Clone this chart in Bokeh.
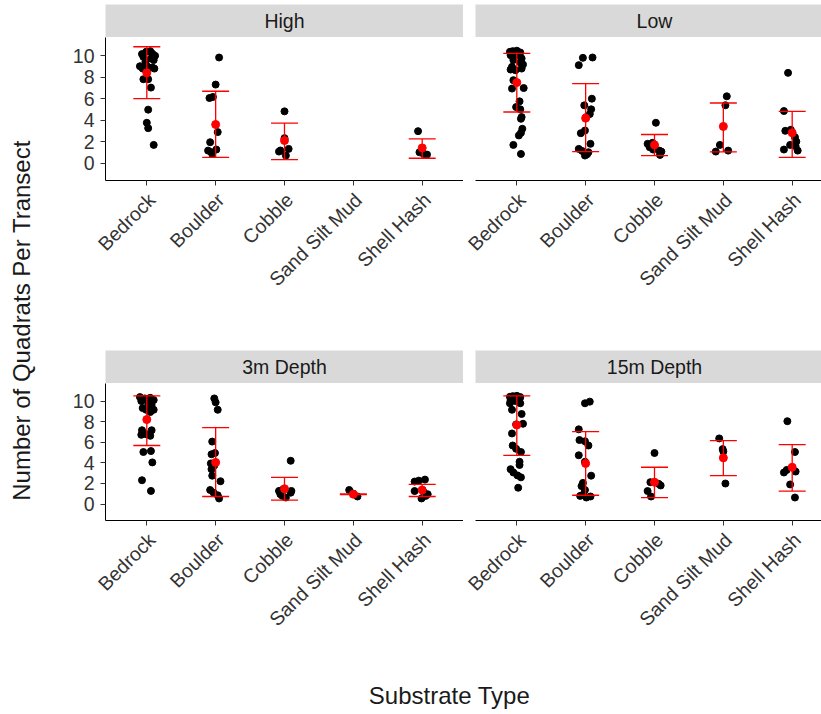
import math
from bokeh.plotting import figure
from bokeh.layouts import row, column
from bokeh.models import ColumnDataSource, Whisker, TeeHead, FixedTicker, Range1d, LinearAxis
from bokeh.embed import file_html
from bokeh.resources import INLINE
from bokeh.core.properties import value
from bokeh.core.validation import silence
from bokeh.core.validation.warnings import MISSING_RENDERERS

silence(MISSING_RENDERERS, True)

substrates = ["Bedrock", "Boulder", "Cobble", "Sand Silt Mud", "Shell Hash"]
panel_names = ["High", "Low", "3m Depth", "15m Depth"]
y_ticks = [0, 2, 4, 6, 8, 10]

# ---- points per panel: values and horizontal jitter (category units) ----
high_vals = {
    "Bedrock": [10.16, 10.37, 10.43, 10.2, 10.0, 9.9, 9.75, 9.6, 9.44, 9.03, 8.81, 8.91, 8.81, 9.06, 7.82, 7.82, 7.04, 4.99, 3.77, 3.27, 1.71],
    "Boulder": [9.84, 7.32, 6.07, 6.17, 2.9, 1.96, 1.18, 1.03, 1.28, 0.87],
    "Cobble": [4.83, 2.34, 1.09, 0.72, 1.34, 1.19],
    "Sand Silt Mud": [],
    "Shell Hash": [2.99, 1.03, 0.87, 0.81, 1.18],
}
high_jit = {
    "Bedrock": [-0.07, -0.01, 0.05, 0.08, 0.12, -0.05, 0.06, 0.1, -0.02, -0.1, -0.06, 0.08, 0.11, 0.0, -0.05, 0.02, 0.06, 0.02, 0.0, 0.02, 0.1],
    "Boulder": [0.05, 0.0, -0.09, -0.04, 0.03, -0.08, -0.11, -0.06, 0.01, -0.05],
    "Cobble": [0.0, 0.0, -0.08, 0.02, 0.06, -0.06],
    "Sand Silt Mud": [],
    "Shell Hash": [-0.06, -0.04, 0.02, 0.07, -0.01],
}
low_vals = {
    "Bedrock": [10.43, 10.47, 10.31, 10.06, 10.0, 9.75, 9.6, 9.38, 8.97, 8.72, 9.19, 8.66, 7.73, 6.95, 7.0, 5.76, 5.23, 5.02, 4.3, 4.14, 3.21, 2.83, 2.59, 1.71, 0.87, 10.06, 10.37, 8.81],
    "Boulder": [9.81, 9.84, 9.13, 6.01, 5.39, 5.02, 4.58, 4.30, 3.05, 2.80, 1.81, 1.34, 1.15, 0.84, 0.72, 1.03],
    "Cobble": [3.77, 1.81, 1.9, 1.5, 1.65, 1.28, 1.18, 1.09, 0.78],
    "Sand Silt Mud": [6.23, 5.4, 1.71, 1.09, 1.18],
    "Shell Hash": [8.41, 4.86, 3.02, 3.12, 2.43, 2.02, 1.59, 1.71, 1.28, 1.18],
}
low_jit = {
    "Bedrock": [-0.06, 0.0, 0.05, -0.09, -0.02, 0.07, -0.05, 0.05, -0.07, -0.09, 0.09, -0.02, -0.05, -0.07, 0.1, 0.04, -0.01, 0.05, 0.07, 0.06, 0.08, 0.06, 0.03, -0.05, 0.06, 0.02, -0.1, 0.07],
    "Boulder": [-0.04, 0.1, -0.1, 0.09, -0.02, 0.08, 0.06, 0.01, -0.01, -0.07, 0.07, -0.1, -0.05, 0.02, -0.01, 0.04],
    "Cobble": [0.02, -0.1, -0.03, -0.07, 0.0, -0.02, 0.07, 0.1, 0.08],
    "Sand Silt Mud": [0.05, 0.03, -0.05, -0.11, 0.07],
    "Shell Hash": [-0.06, -0.12, -0.1, -0.02, 0.04, 0.06, 0.05, -0.03, -0.12, 0.08],
}
d3_vals = {
    "Bedrock": [10.38, 10.25, 10.31, 10.09, 10.0, 9.78, 9.62, 9.31, 9.15, 9.15, 8.93, 7.16, 7.16, 6.72, 6.78, 6.62, 5.05, 5.14, 4.04, 2.31, 1.27],
    "Boulder": [10.25, 9.87, 9.15, 6.06, 4.83, 4.95, 3.94, 3.75, 3.38, 2.75, 2.21, 1.36, 1.1, 0.85, 0.54],
    "Cobble": [4.2, 1.27, 1.42, 1.27, 0.79, 0.63, 1.1, 0.95],
    "Sand Silt Mud": [1.36, 1.0, 0.73],
    "Shell Hash": [2.18, 2.27, 2.37, 1.26, 1.17, 0.95, 0.54, 0.79],
}
d3_jit = {
    "Bedrock": [-0.1, -0.03, 0.05, 0.1, -0.08, 0.02, 0.07, -0.06, -0.01, 0.1, 0.05, -0.07, 0.07, -0.08, -0.01, 0.05, -0.05, 0.06, 0.08, -0.07, 0.06],
    "Boulder": [-0.02, 0.0, 0.03, -0.05, -0.06, -0.01, -0.07, -0.02, -0.06, -0.05, 0.07, -0.08, -0.03, 0.03, 0.05],
    "Cobble": [0.09, -0.08, -0.02, 0.1, -0.03, 0.02, 0.09, -0.06],
    "Sand Silt Mud": [-0.06, 0.0, 0.06],
    "Shell Hash": [-0.11, -0.05, 0.04, -0.11, 0.02, 0.08, -0.01, 0.05],
}
d15_vals = {
    "Bedrock": [10.41, 10.47, 10.5, 10.38, 10.09, 10.0, 10.19, 9.78, 9.78, 9.15, 8.74, 7.73, 7.79, 6.85, 5.68, 5.36, 5.05, 4.1, 3.79, 3.38, 3.06, 2.78, 2.59, 1.58],
    "Boulder": [9.78, 9.94, 7.25, 6.21, 6.09, 5.68, 4.73, 4.1, 2.75, 2.05, 1.74, 1.36, 0.79, 0.63, 0.73, 0.95],
    "Cobble": [4.95, 2.12, 1.96, 1.8, 1.26, 0.73],
    "Sand Silt Mud": [6.37, 5.33, 5.11, 1.99],
    "Shell Hash": [8.04, 5.05, 3.06, 3.31, 3.15, 1.9, 0.63],
}
d15_jit = {
    "Bedrock": [-0.1, -0.06, 0.0, 0.05, -0.09, -0.02, 0.04, -0.1, 0.05, -0.07, 0.07, -0.01, 0.09, -0.07, -0.06, -0.01, 0.06, 0.04, 0.04, -0.09, -0.05, 0.01, 0.06, 0.02],
    "Boulder": [-0.01, 0.06, -0.1, -0.09, -0.01, 0.04, -0.1, -0.01, 0.08, -0.04, -0.06, -0.01, -0.08, 0.01, 0.07, -0.03],
    "Cobble": [0.0, -0.06, 0.06, 0.09, -0.1, -0.05],
    "Sand Silt Mud": [-0.06, -0.01, 0.0, 0.03],
    "Shell Hash": [-0.07, 0.04, -0.12, -0.08, 0.05, -0.03, 0.04],
}

# ---- mean and +/- SD ----
high_mean = [8.41, 3.61, 2.12, None, 1.43]
high_lo = [6.01, 0.56, 0.34, None, 0.47]
high_hi = [10.84, 6.70, 3.74, None, 2.27]
low_mean = [7.51, 4.20, 1.71, 3.43, 2.83]
low_lo = [4.77, 1.09, 0.72, 1.06, 0.56]
low_hi = [10.22, 7.41, 2.68, 5.61, 4.83]
d3_mean = [8.20, 4.04, 1.48, 0.95, 1.36]
d3_lo = [5.68, 0.73, 0.38, 0.92, 0.73]
d3_hi = [10.50, 7.41, 2.59, 0.98, 1.90]
d15_mean = [7.67, 3.94, 2.12, 4.48, 3.57]
d15_lo = [4.73, 0.85, 0.63, 2.75, 1.26]
d15_hi = [10.50, 7.03, 3.57, 6.15, 5.77]

FONT = value("Liberation Sans")
FONT_NAME = "Liberation Sans"
TICK_FS = "19.5px"
TITLE_FS = "24px"
LABEL_COLOR = "#333333"
X_START, X_END_FULL = 0.4, 5.6
Y_START, Y_END = -1.6, 11.7
LEFT_W, LEFT_ML = 419, 61
RIGHT_W, RIGHT_ML = 358, 12
PX_PER_UNIT = (LEFT_W - LEFT_ML) / (X_END_FULL - X_START)
LABEL_SHIFT = 5 / PX_PER_UNIT   # rotated labels hang right of their tick


def x_end(width, ml):
    return X_START + (width - ml) / PX_PER_UNIT


def strip_fig(name, width, ml, height, mt):
    xe = x_end(width, ml)
    s = figure(width=width, height=height, x_range=Range1d(X_START, xe), y_range=Range1d(0, 1),
               x_axis_location=None, y_axis_location=None, toolbar_location=None,
               output_backend="svg", min_border=0, min_border_left=ml, min_border_top=mt,
               background_fill_color="#d9d9d9", border_fill_color="white", outline_line_color=None)
    s.grid.visible = False
    s.text(x=[(1 + len(substrates)) / 2], y=[0.5], text=[name], text_align="center",
           text_baseline="middle", text_font=FONT, text_font_size=TICK_FS, text_color="#1a1a1a")
    return s


def panel_fig(vals, jit, mean, lo, hi, width, ml, height, mb, show_y):
    xe = x_end(width, ml)
    p = figure(width=width, height=height, x_range=Range1d(X_START, xe), y_range=Range1d(Y_START, Y_END),
               y_axis_location="left" if show_y else None, toolbar_location=None,
               output_backend="svg", min_border=0, min_border_left=ml, min_border_bottom=mb,
               background_fill_color="white", border_fill_color="white", outline_line_color=None)
    p.grid.visible = False
    xs, ys = [], []
    for i, cat in enumerate(substrates):
        for v, j in zip(vals[cat], jit[cat]):
            xs.append(i + 1 + j)
            ys.append(v)
    p.scatter(x=xs, y=ys, size=7, color="black")
    mx, my, ml_, mh = [], [], [], []
    for i, m in enumerate(mean):
        if m is None:
            continue
        mx.append(i + 1)
        my.append(m)
        ml_.append(lo[i])
        mh.append(hi[i])
    src = ColumnDataSource(dict(x=mx, y=my, lower=ml_, upper=mh))
    w = Whisker(source=src, base="x", lower="lower", upper="upper", dimension="height",
                line_color="red", line_width=1.3, level="annotation",
                upper_head=TeeHead(size=27, line_color="red", line_width=1.3),
                lower_head=TeeHead(size=27, line_color="red", line_width=1.3))
    p.add_layout(w)
    p.scatter(x="x", y="y", source=src, size=8, color="red")

    # tick marks on the main x axis (its own labels are not drawn)
    xa = p.xaxis[0]
    xa.ticker = FixedTicker(ticks=list(range(1, len(substrates) + 1)))
    xa.minor_tick_line_color = None
    xa.axis_line_color = "black"
    xa.axis_line_width = 1
    xa.major_tick_line_color = "#333333"
    xa.major_tick_out = 5
    xa.major_tick_in = 0
    xa.major_label_text_color = None
    xa.major_label_text_font_size = "1px"
    xa.major_label_standoff = 0

    # rotated category labels (second axis, no line or ticks)
    lab_ticks = [i + 1 + LABEL_SHIFT for i in range(len(substrates))]
    xb = LinearAxis(ticker=FixedTicker(ticks=lab_ticks),
                    major_label_overrides={t: s for t, s in zip(lab_ticks, substrates)},
                    major_label_orientation=math.pi / 4,
                    axis_line_color=None, major_tick_line_color=None, minor_tick_line_color=None,
                    major_tick_out=0, major_tick_in=0, major_label_standoff=11,
                    major_label_text_font=FONT_NAME, major_label_text_font_size=TICK_FS,
                    major_label_text_color=LABEL_COLOR)
    p.add_layout(xb, "below")

    if show_y:
        ya = p.yaxis[0]
        ya.ticker = FixedTicker(ticks=y_ticks)
        ya.minor_tick_line_color = None
        ya.axis_line_color = "black"
        ya.axis_line_width = 1
        ya.major_tick_line_color = "#333333"
        ya.major_tick_out = 5
        ya.major_tick_in = 0
        ya.major_label_text_font = FONT_NAME
        ya.major_label_text_font_size = TICK_FS
        ya.major_label_text_color = LABEL_COLOR
        ya.major_label_standoff = 6
    return p


# top row
s_high = strip_fig(panel_names[0], LEFT_W, LEFT_ML, 37, 4)
s_low = strip_fig(panel_names[1], RIGHT_W, RIGHT_ML, 37, 4)
p_high = panel_fig(high_vals, high_jit, high_mean, high_lo, high_hi, LEFT_W, LEFT_ML, 312, 169, True)
p_low = panel_fig(low_vals, low_jit, low_mean, low_lo, low_hi, RIGHT_W, RIGHT_ML, 312, 169, False)
# bottom row
s_d3 = strip_fig(panel_names[2], LEFT_W, LEFT_ML, 34, 1)
s_d15 = strip_fig(panel_names[3], RIGHT_W, RIGHT_ML, 34, 1)
p_d3 = panel_fig(d3_vals, d3_jit, d3_mean, d3_lo, d3_hi, LEFT_W, LEFT_ML, 257, 117, True)
p_d15 = panel_fig(d15_vals, d15_jit, d15_mean, d15_lo, d15_hi, RIGHT_W, RIGHT_ML, 257, 117, False)

grid = column(row(s_high, s_low), row(p_high, p_low), row(s_d3, s_d15), row(p_d3, p_d15))

ytitle = figure(width=44, height=640, x_range=Range1d(0, 1), y_range=Range1d(0, 1),
                x_axis_location=None, y_axis_location=None, toolbar_location=None,
                output_backend="svg", min_border=0, min_border_left=9, outline_line_color=None,
                title="Number of Quadrats Per Transect", title_location="left")
ytitle.grid.visible = False
ytitle.title.align = "center"
ytitle.title.text_font = FONT_NAME
ytitle.title.text_font_size = TITLE_FS
ytitle.title.text_font_style = "normal"
ytitle.title.text_color = "#1a1a1a"

xtitle = figure(width=821, height=74, x_range=Range1d(0, 1), y_range=Range1d(0, 1),
                x_axis_location=None, y_axis_location=None, toolbar_location=None,
                output_backend="svg", min_border=0, min_border_left=105, min_border_right=28,
                min_border_top=73, outline_line_color=None,
                title="Substrate Type", title_location="above")
xtitle.grid.visible = False
xtitle.title.align = "center"
xtitle.title.text_font = FONT_NAME
xtitle.title.text_font_size = TITLE_FS
xtitle.title.text_font_style = "normal"
xtitle.title.text_color = "#1a1a1a"

layout = column(row(ytitle, grid), xtitle)

with open("out.html", "w") as f:
    f.write(file_html(layout, INLINE))
